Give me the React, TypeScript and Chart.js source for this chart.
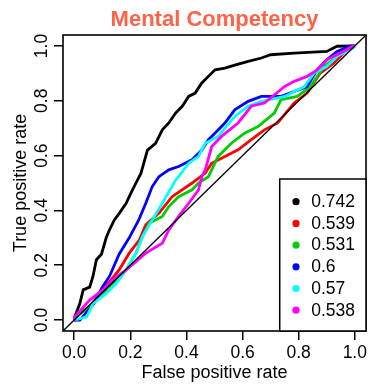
import React, { useEffect, useRef } from "react";
import { Chart, registerables } from "chart.js";

Chart.register(...registerables);

const titleText = "Mental Competency";
const xTitle = "False positive rate";
const yTitle = "True positive rate";
const tickValues = [0, 0.2, 0.4, 0.6, 0.8, 1.0];
const axisMin = -0.04;
const axisMax = 1.04;
const diagonalEnds = [-0.04, 1.04];

const seriesLabels = ["0.742", "0.539", "0.531", "0.6", "0.57", "0.538"];
const seriesColors = ["#000000", "#FF0000", "#00CD00", "#0000FF", "#00FFFF", "#FF00FF"];

const fprBlack = [0, 0.002, 0.02, 0.032, 0.055, 0.067, 0.079, 0.097, 0.114, 0.126, 0.143, 0.161, 0.185, 0.202, 0.22, 0.238, 0.261, 0.29, 0.314, 0.337, 0.361, 0.385, 0.408, 0.431, 0.454, 0.478, 0.502, 0.537, 0.572, 0.62, 0.667, 0.70, 0.784, 0.90, 0.937, 0.995, 1];
const tprBlack = [0, 0.012, 0.06, 0.11, 0.12, 0.16, 0.22, 0.24, 0.30, 0.33, 0.365, 0.39, 0.426, 0.463, 0.50, 0.536, 0.62, 0.645, 0.694, 0.719, 0.755, 0.78, 0.816, 0.828, 0.864, 0.889, 0.913, 0.919, 0.93, 0.944, 0.956, 0.968, 0.974, 0.98, 0.999, 1.0, 1];

const fprRed = [0, 0.002, 0.055, 0.102, 0.16, 0.196, 0.232, 0.255, 0.302, 0.349, 0.42, 0.467, 0.49, 0.537, 0.584, 0.631, 0.678, 0.725, 0.784, 0.83, 0.877, 0.925, 0.972, 1];
const tprRed = [0, 0.012, 0.049, 0.11, 0.183, 0.244, 0.292, 0.347, 0.39, 0.45, 0.50, 0.536, 0.572, 0.597, 0.621, 0.658, 0.694, 0.719, 0.792, 0.828, 0.901, 0.937, 0.986, 1];

const fprGreen = [0, 0.008, 0.067, 0.126, 0.185, 0.22, 0.243, 0.267, 0.314, 0.337, 0.372, 0.42, 0.443, 0.478, 0.513, 0.56, 0.607, 0.655, 0.713, 0.737, 0.795, 0.842, 0.89, 0.937, 0.972, 1];
const tprGreen = [0, 0.012, 0.06, 0.122, 0.183, 0.244, 0.304, 0.353, 0.378, 0.414, 0.45, 0.475, 0.50, 0.523, 0.597, 0.645, 0.682, 0.706, 0.755, 0.804, 0.816, 0.852, 0.925, 0.962, 0.993, 1];

const fprBlue = [0, 0.02, 0.07, 0.10, 0.126, 0.16, 0.196, 0.23, 0.255, 0.278, 0.302, 0.337, 0.372, 0.42, 0.455, 0.478, 0.49, 0.537, 0.572, 0.62, 0.667, 0.737, 0.784, 0.83, 0.866, 0.90, 0.937, 0.983, 1];
const tprBlue = [0, 0, 0.06, 0.12, 0.16, 0.24, 0.30, 0.365, 0.426, 0.487, 0.523, 0.548, 0.56, 0.585, 0.62, 0.658, 0.67, 0.719, 0.767, 0.798, 0.816, 0.816, 0.834, 0.852, 0.913, 0.95, 0.98, 0.999, 1];

const fprCyan = [0, 0.044, 0.067, 0.114, 0.15, 0.185, 0.22, 0.243, 0.278, 0.314, 0.361, 0.372, 0.408, 0.443, 0.467, 0.513, 0.572, 0.62, 0.667, 0.75, 0.82, 0.855, 0.90, 0.937, 0.995, 1];
const tprCyan = [0, 0.012, 0.06, 0.097, 0.134, 0.183, 0.244, 0.304, 0.365, 0.426, 0.51, 0.523, 0.572, 0.597, 0.645, 0.67, 0.743, 0.78, 0.798, 0.816, 0.852, 0.901, 0.925, 0.962, 0.993, 1];

const fprMagenta = [0, 0.002, 0.055, 0.102, 0.137, 0.185, 0.255, 0.314, 0.337, 0.372, 0.408, 0.443, 0.455, 0.467, 0.49, 0.525, 0.584, 0.631, 0.678, 0.75, 0.784, 0.83, 0.866, 0.90, 0.949, 0.995, 1];
const tprMagenta = [0, 0.012, 0.073, 0.11, 0.146, 0.183, 0.244, 0.28, 0.329, 0.378, 0.426, 0.475, 0.523, 0.548, 0.633, 0.67, 0.719, 0.78, 0.792, 0.852, 0.871, 0.889, 0.913, 0.95, 0.974, 1.0, 1];

const seriesFpr = [fprBlack, fprRed, fprGreen, fprBlue, fprCyan, fprMagenta];
const seriesTpr = [tprBlack, tprRed, tprGreen, tprBlue, tprCyan, tprMagenta];

const FONT = '"Liberation Sans", Arial, Helvetica, sans-serif';

const overlayPlugin = {
  id: "overlay",
  afterDraw(chart: any) {
    const { ctx, chartArea: a } = chart;
    ctx.save();
    // plot box
    ctx.lineWidth = 1.6;
    ctx.strokeStyle = "#000";
    ctx.strokeRect(a.left, a.top, a.right - a.left, a.bottom - a.top);

    // legend
    const lw = 86.3;
    const lh = 152;
    const lx = a.right - lw;
    const ly = a.bottom - lh;
    ctx.fillStyle = "#fff";
    ctx.fillRect(lx, ly, lw, lh);
    ctx.lineWidth = 1.5;
    ctx.strokeRect(lx, ly, lw, lh);
    ctx.font = `17.5px ${FONT}`;
    ctx.textAlign = "left";
    ctx.textBaseline = "middle";
    const dsets = chart.data.datasets.filter((d: any) => d.inLegend);
    dsets.forEach((d: any, i: number) => {
      const yy = ly + 22.7 + i * 21.7;
      ctx.fillStyle = d.borderColor;
      ctx.beginPath();
      ctx.arc(lx + 16.3, yy, 3.6, 0, Math.PI * 2);
      ctx.fill();
      ctx.fillStyle = "#000";
      ctx.fillText(d.label, lx + 31.5, yy + 0.5);
    });

    // title
    ctx.fillStyle = "#FF6347";
    ctx.font = `bold 22px ${FONT}`;
    ctx.textAlign = "center";
    ctx.textBaseline = "middle";
    ctx.fillText(titleText, (a.left + a.right) / 2, 19.5);
    ctx.restore();
  },
};

export default function App() {
  const ref = useRef<HTMLCanvasElement | null>(null);
  useEffect(() => {
    if (!ref.current) return;
    const datasets: any[] = seriesLabels.map((lab, i) => ({
      label: lab,
      inLegend: true,
      data: seriesFpr[i].map((x, j) => ({ x, y: seriesTpr[i][j] })),
      borderColor: seriesColors[i],
      backgroundColor: seriesColors[i],
      borderWidth: 2.8,
      pointRadius: 0,
      fill: false,
      tension: 0,
      order: seriesLabels.length - i + 1,
    }));
    datasets.push({
      label: "diagonal",
      inLegend: false,
      data: diagonalEnds.map((v) => ({ x: v, y: v })),
      borderColor: "#000",
      borderWidth: 1.3,
      pointRadius: 0,
      fill: false,
      order: 0,
    });
    const gridCommon = {
      display: true,
      drawOnChartArea: false,
      drawTicks: true,
      tickLength: 9,
      color: "#000",
      lineWidth: 1.5,
    };
    const chart = new Chart(ref.current, {
      type: "line",
      data: { datasets },
      plugins: [overlayPlugin],
      options: {
        animation: false,
        responsive: false,
        devicePixelRatio: 1,
        layout: { padding: { top: 35, right: 1, left: 0, bottom: 0 } },
        plugins: {
          legend: { display: false },
          title: { display: false },
          tooltip: { enabled: false },
        },
        scales: {
          x: {
            type: "linear",
            min: axisMin,
            max: axisMax,
            grid: gridCommon as any,
            border: { display: false },
            afterBuildTicks: (s: any) => {
              s.ticks = tickValues.map((v) => ({ value: v }));
            },
            afterFit: (s: any) => {
              s.height = 56;
            },
            ticks: {
              color: "#000",
              font: { family: FONT, size: 17.5 },
              padding: 3,
              maxRotation: 0,
              minRotation: 0,
              callback: (v: any) => Number(v).toFixed(1),
            },
            title: {
              display: true,
              text: xTitle,
              color: "#000",
              font: { family: FONT, size: 18 },
              padding: { top: 0, bottom: 3.5 },
            },
          },
          y: {
            type: "linear",
            min: axisMin,
            max: axisMax,
            grid: gridCommon as any,
            border: { display: false },
            afterBuildTicks: (s: any) => {
              s.ticks = tickValues.map((v) => ({ value: v }));
            },
            afterFit: (s: any) => {
              s.width = 63;
            },
            ticks: {
              color: "#000",
              font: { family: FONT, size: 17.5 },
              padding: 0,
              minRotation: 90,
              maxRotation: 90,
              crossAlign: "center",
              callback: (v: any) => Number(v).toFixed(1),
            },
            title: {
              display: true,
              text: yTitle,
              color: "#000",
              font: { family: FONT, size: 18 },
              padding: { top: 10.5, bottom: 0 },
            },
          },
        },
      } as any,
    });
    return () => chart.destroy();
  }, []);
  return (
    <div style={{ position: "fixed", left: 0, top: 0, width: 370, height: 387, background: "#fff" }}>
      <canvas ref={ref} width={370} height={387} style={{ display: "block", width: 370, height: 387 }} />
    </div>
  );
}
